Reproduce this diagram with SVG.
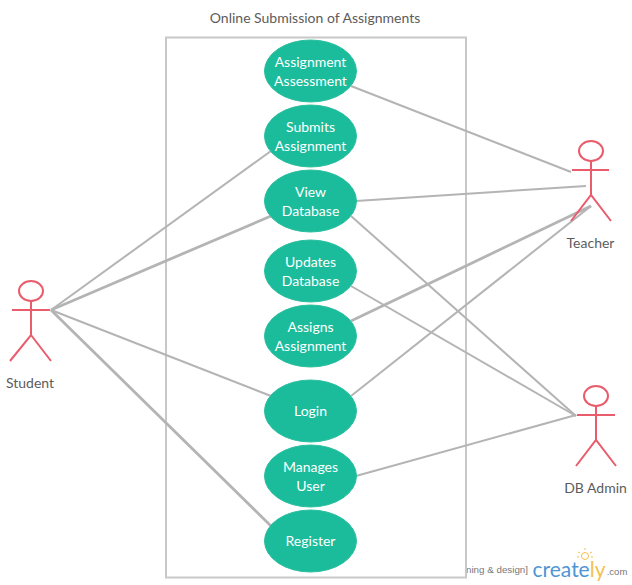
<svg xmlns="http://www.w3.org/2000/svg" width="632" height="585" viewBox="0 0 632 585">
<style>
text{font-family:Lato,"Open Sans","Liberation Sans",sans-serif;text-anchor:middle}
.uc ellipse{fill:#1abc9c;stroke:#2dbf9f;stroke-width:1}
.uc text{fill:#fff;font-size:14px}
.actor *{fill:none;stroke:#e95c6c;stroke-width:2}
.actor text{fill:#5c5c5c;stroke:none;font-size:14px}
.c line{stroke:#b4b4b4;stroke-width:2}
.c line.b{stroke-width:2.8}
</style>
<rect width="632" height="585" fill="#fff"/>
<g id="watermark">
<text x="497" y="573" style="font-family:'Liberation Sans',sans-serif;font-size:9.800px;fill:#777">ning &amp; design]</text>
<text x="569" y="577" style="font-size:21px;fill:#4f94d4">create<tspan fill="#f2c14e">ly</tspan></text>
<text x="617" y="575" style="font-family:'Liberation Sans',sans-serif;font-size:9.500px;fill:#777">.com</text>
<g fill="none" stroke="#f2c14e" stroke-width="1"><circle cx="585" cy="556" r="3.500"/><path d="M585 548v2M578 552l2 1M592 552l-2 1M577 557h2M591 557h2"/></g>
</g>
<text id="title" x="315" y="23" style="font-size:14px;fill:#5c5c5c">Online Submission of Assignments</text>
<rect id="boundary" x="166" y="37.500" width="300" height="540" fill="none" stroke="#c8c8c8" stroke-width="2"/>
<g id="connectors" class="c">
<line x1="351" y1="86" x2="571" y2="172"/>
<line x1="356" y1="201" x2="586" y2="186"/>
<line class="b" x1="351" y1="321" x2="591" y2="206"/>
<line x1="351" y1="396" x2="591" y2="206"/>
<line x1="351" y1="216" x2="576" y2="416"/>
<line x1="351" y1="286" x2="576" y2="416"/>
<line x1="356" y1="476" x2="576" y2="415"/>
<line x1="51" y1="310" x2="271" y2="151"/>
<line class="b" x1="51" y1="310" x2="271" y2="216"/>
<line x1="51" y1="310" x2="271" y2="396"/>
<line class="b" x1="51" y1="310" x2="271" y2="526"/>
</g>
<g id="uc1" class="uc"><ellipse cx="310.500" cy="71" rx="46" ry="31"/><text x="310.500" y="67">Assignment</text><text x="310.500" y="86">Assessment</text></g>
<g id="uc2" class="uc"><ellipse cx="310.500" cy="136" rx="46" ry="31"/><text x="310.500" y="132">Submits</text><text x="310.500" y="151">Assignment</text></g>
<g id="uc3" class="uc"><ellipse cx="310.500" cy="201" rx="46" ry="31"/><text x="310.500" y="197">View</text><text x="310.500" y="216">Database</text></g>
<g id="uc4" class="uc"><ellipse cx="310.500" cy="271" rx="46" ry="31"/><text x="310.500" y="267">Updates</text><text x="310.500" y="286">Database</text></g>
<g id="uc5" class="uc"><ellipse cx="310.500" cy="336" rx="46" ry="31"/><text x="310.500" y="332">Assigns</text><text x="310.500" y="351">Assignment</text></g>
<g id="uc6" class="uc"><ellipse cx="310.500" cy="411" rx="46" ry="31"/><text x="310.500" y="416">Login</text></g>
<g id="uc7" class="uc"><ellipse cx="310.500" cy="476" rx="46" ry="31"/><text x="310.500" y="472">Manages</text><text x="310.500" y="491">User</text></g>
<g id="uc8" class="uc"><ellipse cx="310.500" cy="541" rx="46" ry="31"/><text x="310.500" y="546">Register</text></g>
<g id="student" class="actor"><ellipse cx="31" cy="291" rx="12" ry="10"/><path d="M31 301V335M12 310H50M10 361L31 335L51 361"/><text x="30" y="388">Student</text></g>
<g id="teacher" class="actor"><ellipse cx="591" cy="151" rx="12" ry="10"/><path d="M591 161V195M572 170H609M571 221L591 195L611 221"/><text x="590.500" y="248">Teacher</text></g>
<g id="dbadmin" class="actor"><ellipse cx="596" cy="396" rx="12" ry="10"/><path d="M596 406V440M577 415H615M576 466L596 440L616 466"/><text x="595.500" y="493">DB Admin</text></g>
</svg>
